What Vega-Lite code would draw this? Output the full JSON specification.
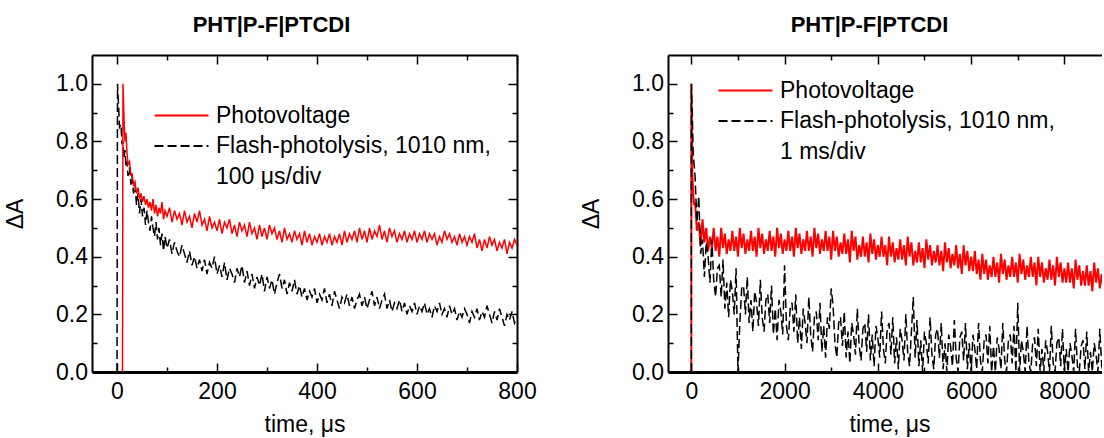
{
  "$schema": "https://vega.github.io/schema/vega-lite/v6.json",
  "padding": {"left": 4, "top": 14, "right": -10, "bottom": 0},
  "spacing": 43,
  "config": {
    "font": "Liberation Sans",
    "view": {"stroke": null},
    "axis": {
      "labelFont": "Liberation Sans", "labelFontSize": 23, "labelColor": "black",
      "titleFont": "Liberation Sans", "titleFontSize": 23, "titleFontWeight": "normal", "titleColor": "black",
      "domainColor": "black", "tickColor": "black", "tickWidth": 1.5, "grid": false,
      "labelPadding": 17.5, "labelFlush": false, "labelOverlap": false, "labelBound": false
    },
    "legend": {
      "labelFont": "Liberation Sans", "labelFontSize": 23, "labelColor": "black", "labelLimit": 0
    },
    "title": {"font": "Liberation Sans", "fontSize": 22, "fontWeight": "bold", "color": "black"}
  },
  "resolve": {
    "scale": {"color": "independent", "strokeDash": "independent"},
    "legend": {"color": "independent", "strokeDash": "independent"}
  },
  "datasets": {
    "L": [
      {"t":0,"k":0},{"t":1,"k":1},{"t":3,"k":0.93},{"t":5,"k":0.85},{"t":8,"k":0.86},{"t":10,"k":0.79},
      {"t":11,"r":0},{"t":12,"r":1,"k":0.8},{"t":14,"r":0.88,"k":0.74},{"t":16,"r":0.8,"k":0.77},{"t":18,"r":0.83,"k":0.71},
      {"t":20,"r":0.76,"k":0.73},{"t":22,"r":0.72,"k":0.68},{"t":25,"r":0.73,"k":0.71},{"t":28,"r":0.68,"k":0.65},
      {"t":30,"r":0.69,"k":0.68},{"t":33,"r":0.65,"k":0.62},{"t":36,"r":0.66,"k":0.65},{"t":39,"r":0.62,"k":0.58},
      {"t":42,"r":0.64,"k":0.62},{"t":45,"r":0.6,"k":0.55},{"t":48,"r":0.62,"k":0.6},{"t":51,"r":0.59,"k":0.54},
      {"t":54,"r":0.61,"k":0.57},{"t":57,"r":0.58,"k":0.51},{"t":60,"r":0.6,"k":0.56},{"t":63,"r":0.57,"k":0.52},
      {"t":66,"r":0.59,"k":0.49},{"t":69,"r":0.56,"k":0.54},{"t":72,"r":0.6,"k":0.5},{"t":75,"r":0.55,"k":0.47},
      {"t":78,"r":0.58,"k":0.52},{"t":81,"r":0.54,"k":0.46},{"t":84,"r":0.57,"k":0.5},{"t":87,"r":0.55,"k":0.44},
      {"t":90,"r":0.59,"k":0.48},{"t":93,"r":0.53,"k":0.42},{"t":96,"r":0.56,"k":0.47},{"t":100,"r":0.54,"k":0.43},
      {"t":105,"r":0.57,"k":0.46},{"t":110,"r":0.52,"k":0.41},{"t":115,"r":0.56,"k":0.45},{"t":120,"r":0.53,"k":0.42},
      {"t":125,"r":0.55,"k":0.4},{"t":130,"r":0.51,"k":0.44},{"t":135,"r":0.56,"k":0.41},{"t":140,"r":0.52,"k":0.38},
      {"t":145,"r":0.54,"k":0.42},{"t":150,"r":0.5,"k":0.37},{"t":155,"r":0.55,"k":0.4},{"t":160,"r":0.52,"k":0.36},
      {"t":165,"r":0.56,"k":0.39},{"t":170,"r":0.51,"k":0.35},{"t":175,"r":0.53,"k":0.39},{"t":180,"r":0.49,"k":0.34},
      {"t":185,"r":0.54,"k":0.38},{"t":190,"r":0.5,"k":0.36},{"t":195,"r":0.52,"k":0.4},{"t":200,"r":0.49,"k":0.34},
      {"t":205,"r":0.53,"k":0.37},{"t":210,"r":0.48,"k":0.33},{"t":215,"r":0.52,"k":0.38},{"t":220,"r":0.5,"k":0.32},
      {"t":225,"r":0.53,"k":0.36},{"t":230,"r":0.48,"k":0.34},{"t":235,"r":0.51,"k":0.31},{"t":240,"r":0.47,"k":0.36},
      {"t":245,"r":0.52,"k":0.33},{"t":250,"r":0.49,"k":0.37},{"t":255,"r":0.51,"k":0.31},{"t":260,"r":0.47,"k":0.35},
      {"t":265,"r":0.52,"k":0.3},{"t":270,"r":0.48,"k":0.34},{"t":275,"r":0.5,"k":0.29},{"t":280,"r":0.46,"k":0.33},
      {"t":285,"r":0.51,"k":0.3},{"t":290,"r":0.47,"k":0.34},{"t":295,"r":0.5,"k":0.28},{"t":300,"r":0.46,"k":0.33},
      {"t":305,"r":0.51,"k":0.29},{"t":310,"r":0.48,"k":0.32},{"t":315,"r":0.5,"k":0.27},{"t":320,"r":0.46,"k":0.31},
      {"t":325,"r":0.49,"k":0.34},{"t":330,"r":0.45,"k":0.29},{"t":335,"r":0.5,"k":0.32},{"t":340,"r":0.46,"k":0.27},
      {"t":345,"r":0.48,"k":0.31},{"t":350,"r":0.45,"k":0.28},{"t":355,"r":0.49,"k":0.32},{"t":360,"r":0.46,"k":0.27},
      {"t":365,"r":0.48,"k":0.3},{"t":370,"r":0.44,"k":0.26},{"t":375,"r":0.49,"k":0.29},{"t":380,"r":0.45,"k":0.25},
      {"t":385,"r":0.48,"k":0.28},{"t":390,"r":0.44,"k":0.26},{"t":395,"r":0.47,"k":0.29},{"t":400,"r":0.45,"k":0.24},
      {"t":405,"r":0.48,"k":0.27},{"t":410,"r":0.44,"k":0.25},{"t":415,"r":0.47,"k":0.29},{"t":420,"r":0.45,"k":0.24},
      {"t":425,"r":0.48,"k":0.27},{"t":430,"r":0.44,"k":0.23},{"t":435,"r":0.47,"k":0.28},{"t":440,"r":0.45,"k":0.25},
      {"t":445,"r":0.48,"k":0.22},{"t":450,"r":0.44,"k":0.26},{"t":455,"r":0.49,"k":0.24},{"t":460,"r":0.45,"k":0.27},
      {"t":465,"r":0.48,"k":0.23},{"t":470,"r":0.46,"k":0.26},{"t":475,"r":0.49,"k":0.22},{"t":480,"r":0.45,"k":0.25},
      {"t":485,"r":0.5,"k":0.27},{"t":490,"r":0.46,"k":0.23},{"t":495,"r":0.49,"k":0.26},{"t":500,"r":0.45,"k":0.22},
      {"t":505,"r":0.5,"k":0.25},{"t":510,"r":0.46,"k":0.28},{"t":515,"r":0.49,"k":0.23},{"t":520,"r":0.47,"k":0.26},
      {"t":525,"r":0.51,"k":0.22},{"t":530,"r":0.46,"k":0.25},{"t":535,"r":0.49,"k":0.27},{"t":540,"r":0.45,"k":0.22},
      {"t":545,"r":0.5,"k":0.25},{"t":550,"r":0.47,"k":0.21},{"t":555,"r":0.49,"k":0.24},{"t":560,"r":0.45,"k":0.22},
      {"t":565,"r":0.48,"k":0.25},{"t":570,"r":0.46,"k":0.21},{"t":575,"r":0.49,"k":0.24},{"t":580,"r":0.45,"k":0.2},
      {"t":585,"r":0.48,"k":0.23},{"t":590,"r":0.46,"k":0.21},{"t":595,"r":0.49,"k":0.24},{"t":600,"r":0.45,"k":0.2},
      {"t":605,"r":0.48,"k":0.23},{"t":610,"r":0.46,"k":0.21},{"t":615,"r":0.49,"k":0.24},{"t":620,"r":0.45,"k":0.2},
      {"t":625,"r":0.48,"k":0.22},{"t":630,"r":0.46,"k":0.19},{"t":635,"r":0.48,"k":0.23},{"t":640,"r":0.44,"k":0.21},
      {"t":645,"r":0.47,"k":0.24},{"t":650,"r":0.45,"k":0.2},{"t":655,"r":0.49,"k":0.22},{"t":660,"r":0.46,"k":0.19},
      {"t":665,"r":0.48,"k":0.23},{"t":670,"r":0.45,"k":0.2},{"t":675,"r":0.47,"k":0.22},{"t":680,"r":0.44,"k":0.18},
      {"t":685,"r":0.48,"k":0.21},{"t":690,"r":0.45,"k":0.19},{"t":695,"r":0.47,"k":0.22},{"t":700,"r":0.44,"k":0.2},
      {"t":705,"r":0.47,"k":0.17},{"t":710,"r":0.45,"k":0.21},{"t":715,"r":0.48,"k":0.19},{"t":720,"r":0.43,"k":0.22},
      {"t":725,"r":0.46,"k":0.18},{"t":730,"r":0.42,"k":0.21},{"t":735,"r":0.46,"k":0.19},{"t":740,"r":0.43,"k":0.23},
      {"t":745,"r":0.47,"k":0.2},{"t":750,"r":0.44,"k":0.17},{"t":755,"r":0.46,"k":0.21},{"t":760,"r":0.42,"k":0.18},
      {"t":765,"r":0.45,"k":0.22},{"t":770,"r":0.43,"k":0.19},{"t":775,"r":0.46,"k":0.16},{"t":780,"r":0.41,"k":0.2},
      {"t":785,"r":0.45,"k":0.18},{"t":790,"r":0.43,"k":0.21},{"t":795,"r":0.46,"k":0.17},{"t":800,"r":0.44,"k":0.19}
    ],
    "R": [
      {"t":0,"r":0,"k":0},{"t":1,"r":1,"k":1},{"t":20,"r":0.7,"k":0.9},{"t":40,"r":0.62,"k":0.76},{"t":60,"r":0.58,"k":0.72},
      {"t":80,"r":0.59,"k":0.68},{"t":120,"r":0.49,"k":0.52},{"t":160,"r":0.52,"k":0.61},{"t":200,"r":0.44,"k":0.41},
      {"t":240,"r":0.53,"k":0.46},{"t":280,"r":0.45,"k":0.33},{"t":320,"r":0.5,"k":0.45},{"t":360,"r":0.42,"k":0.4},
      {"t":400,"r":0.47,"k":0.31},{"t":440,"r":0.43,"k":0.46},{"t":480,"r":0.5,"k":0.32},{"t":520,"r":0.42,"k":0.26},
      {"t":560,"r":0.47,"k":0.36},{"t":600,"r":0.4,"k":0.37},{"t":640,"r":0.5,"k":0.26},{"t":680,"r":0.43,"k":0.39},
      {"t":720,"r":0.48,"k":0.22},{"t":760,"r":0.41,"k":0.31},{"t":800,"r":0.46,"k":0.19},{"t":840,"r":0.42,"k":0.32},
      {"t":880,"r":0.49,"k":0.28},{"t":920,"r":0.42,"k":0.2},{"t":960,"r":0.47,"k":0.36},{"t":1000,"r":0.4,"k":0},
      {"t":1040,"r":0.5,"k":0.17},{"t":1080,"r":0.43,"k":0.29},{"t":1120,"r":0.48,"k":0.3},{"t":1160,"r":0.41,"k":0.2},
      {"t":1200,"r":0.46,"k":0.33},{"t":1240,"r":0.42,"k":0.17},{"t":1280,"r":0.49,"k":0.25},{"t":1320,"r":0.42,"k":0.14},
      {"t":1360,"r":0.47,"k":0.28},{"t":1400,"r":0.4,"k":0.24},{"t":1440,"r":0.5,"k":0.16},{"t":1480,"r":0.43,"k":0.32},
      {"t":1520,"r":0.48,"k":0.19},{"t":1560,"r":0.41,"k":0.14},{"t":1600,"r":0.46,"k":0.25},{"t":1640,"r":0.42,"k":0.27},
      {"t":1680,"r":0.49,"k":0.17},{"t":1720,"r":0.42,"k":0.3},{"t":1760,"r":0.47,"k":0.13},{"t":1800,"r":0.4,"k":0.22},
      {"t":1840,"r":0.5,"k":0.11},{"t":1880,"r":0.43,"k":0.25},{"t":1920,"r":0.48,"k":0.21},{"t":1960,"r":0.41,"k":0.13},
      {"t":2000,"r":0.46,"k":0.37},{"t":2040,"r":0.42,"k":0.16},{"t":2080,"r":0.49,"k":0.11},{"t":2120,"r":0.42,"k":0.22},
      {"t":2160,"r":0.47,"k":0.24},{"t":2200,"r":0.4,"k":0.14},{"t":2240,"r":0.5,"k":0.27},{"t":2280,"r":0.43,"k":0.1},
      {"t":2320,"r":0.48,"k":0.19},{"t":2360,"r":0.41,"k":0.08},{"t":2400,"r":0.46,"k":0.22},{"t":2440,"r":0.42,"k":0.17},
      {"t":2480,"r":0.49,"k":0.1},{"t":2520,"r":0.42,"k":0.26},{"t":2560,"r":0.47,"k":0.13},{"t":2600,"r":0.4,"k":0.07},
      {"t":2640,"r":0.5,"k":0.19},{"t":2680,"r":0.43,"k":0.21},{"t":2720,"r":0.48,"k":0.11},{"t":2760,"r":0.41,"k":0.24},
      {"t":2800,"r":0.46,"k":0.07},{"t":2840,"r":0.42,"k":0.16},{"t":2880,"r":0.49,"k":0.05},{"t":2920,"r":0.42,"k":0.19},
      {"t":2960,"r":0.47,"k":0.15},{"t":3000,"r":0.39,"k":0.29},{"t":3040,"r":0.49,"k":0.23},{"t":3080,"r":0.42,"k":0.1},
      {"t":3120,"r":0.47,"k":0.05},{"t":3160,"r":0.4,"k":0.17},{"t":3200,"r":0.45,"k":0.19},{"t":3240,"r":0.41,"k":0.09},
      {"t":3280,"r":0.48,"k":0.21},{"t":3320,"r":0.41,"k":0.05},{"t":3360,"r":0.46,"k":0.14},{"t":3400,"r":0.38,"k":0.03},
      {"t":3440,"r":0.49,"k":0.17},{"t":3480,"r":0.42,"k":0.13},{"t":3520,"r":0.47,"k":0.06},{"t":3560,"r":0.39,"k":0.22},
      {"t":3600,"r":0.44,"k":0.09},{"t":3640,"r":0.4,"k":0.04},{"t":3680,"r":0.47,"k":0.15},{"t":3720,"r":0.4,"k":0.17},
      {"t":3760,"r":0.45,"k":0.07},{"t":3800,"r":0.38,"k":0.2},{"t":3840,"r":0.48,"k":0.04},{"t":3880,"r":0.41,"k":0.13},
      {"t":3920,"r":0.46,"k":0.02},{"t":3960,"r":0.39,"k":0.16},{"t":4000,"r":0.44,"k":0.12},{"t":4040,"r":0.4,"k":0.05},
      {"t":4080,"r":0.47,"k":0.21},{"t":4120,"r":0.4,"k":0.08},{"t":4160,"r":0.44,"k":0.03},{"t":4200,"r":0.37,"k":0.15},
      {"t":4240,"r":0.47,"k":0.17},{"t":4280,"r":0.4,"k":0.06},{"t":4320,"r":0.45,"k":0.19},{"t":4360,"r":0.38,"k":0.03},
      {"t":4400,"r":0.43,"k":0.12},{"t":4440,"r":0.39,"k":0.01},{"t":4480,"r":0.46,"k":0.15},{"t":4520,"r":0.39,"k":0.11},
      {"t":4560,"r":0.44,"k":0.04},{"t":4600,"r":0.37,"k":0.2},{"t":4640,"r":0.47,"k":0.07},{"t":4680,"r":0.4,"k":0.02},
      {"t":4720,"r":0.45,"k":0.14},{"t":4760,"r":0.37,"k":0.26},{"t":4800,"r":0.42,"k":0.05},{"t":4840,"r":0.38,"k":0.18},
      {"t":4880,"r":0.45,"k":0.02},{"t":4920,"r":0.38,"k":0.11},{"t":4960,"r":0.43,"k":0},{"t":5000,"r":0.36,"k":0.14},
      {"t":5040,"r":0.46,"k":0.1},{"t":5080,"r":0.39,"k":0.03},{"t":5120,"r":0.44,"k":0.19},{"t":5160,"r":0.37,"k":0.06},
      {"t":5200,"r":0.42,"k":0.01},{"t":5240,"r":0.38,"k":0.13},{"t":5280,"r":0.44,"k":0.15},{"t":5320,"r":0.37,"k":0.05},
      {"t":5360,"r":0.42,"k":0.17},{"t":5400,"r":0.35,"k":0.01},{"t":5440,"r":0.45,"k":0.1},{"t":5480,"r":0.38,"k":0},
      {"t":5520,"r":0.43,"k":0.13},{"t":5560,"r":0.36,"k":0.09},{"t":5600,"r":0.41,"k":0.02},{"t":5640,"r":0.37,"k":0.18},
      {"t":5680,"r":0.44,"k":0.05},{"t":5720,"r":0.36,"k":0},{"t":5760,"r":0.41,"k":0.12},{"t":5800,"r":0.34,"k":0.14},
      {"t":5840,"r":0.44,"k":0.04},{"t":5880,"r":0.37,"k":0.17},{"t":5920,"r":0.42,"k":0.01},{"t":5960,"r":0.35,"k":0.1},
      {"t":6000,"r":0.4,"k":0},{"t":6040,"r":0.35,"k":0.13},{"t":6080,"r":0.42,"k":0.08},{"t":6120,"r":0.34,"k":0.01},
      {"t":6160,"r":0.39,"k":0.17},{"t":6200,"r":0.32,"k":0.04},{"t":6240,"r":0.41,"k":0},{"t":6280,"r":0.34,"k":0.11},
      {"t":6320,"r":0.39,"k":0.13},{"t":6360,"r":0.32,"k":0.03},{"t":6400,"r":0.37,"k":0.16},{"t":6440,"r":0.33,"k":0},
      {"t":6480,"r":0.4,"k":0.09},{"t":6520,"r":0.33,"k":0},{"t":6560,"r":0.38,"k":0.12},{"t":6600,"r":0.31,"k":0.08},
      {"t":6640,"r":0.41,"k":0.01},{"t":6680,"r":0.34,"k":0.17},{"t":6720,"r":0.39,"k":0.04},{"t":6760,"r":0.32,"k":0},
      {"t":6800,"r":0.37,"k":0.11},{"t":6840,"r":0.33,"k":0.13},{"t":6880,"r":0.4,"k":0.03},{"t":6920,"r":0.33,"k":0.16},
      {"t":6960,"r":0.38,"k":0},{"t":7000,"r":0.31,"k":0.24},{"t":7040,"r":0.41,"k":0},{"t":7080,"r":0.34,"k":0.11},
      {"t":7120,"r":0.39,"k":0.07},{"t":7160,"r":0.32,"k":0},{"t":7200,"r":0.37,"k":0.16},{"t":7240,"r":0.33,"k":0.03},
      {"t":7280,"r":0.4,"k":0},{"t":7320,"r":0.33,"k":0.1},{"t":7360,"r":0.38,"k":0.12},{"t":7400,"r":0.3,"k":0.02},
      {"t":7440,"r":0.4,"k":0.15},{"t":7480,"r":0.33,"k":0},{"t":7520,"r":0.38,"k":0.08},{"t":7560,"r":0.31,"k":0},
      {"t":7600,"r":0.36,"k":0.11},{"t":7640,"r":0.32,"k":0.07},{"t":7680,"r":0.39,"k":0},{"t":7720,"r":0.32,"k":0.16},
      {"t":7760,"r":0.37,"k":0.03},{"t":7800,"r":0.3,"k":0},{"t":7840,"r":0.4,"k":0.1},{"t":7880,"r":0.33,"k":0.12},
      {"t":7920,"r":0.38,"k":0.02},{"t":7960,"r":0.31,"k":0.15},{"t":8000,"r":0.36,"k":0},{"t":8040,"r":0.31,"k":0.08},
      {"t":8080,"r":0.38,"k":0},{"t":8120,"r":0.31,"k":0.1},{"t":8160,"r":0.36,"k":0.06},{"t":8200,"r":0.29,"k":0},
      {"t":8240,"r":0.39,"k":0.15},{"t":8280,"r":0.32,"k":0.02},{"t":8320,"r":0.37,"k":0},{"t":8360,"r":0.3,"k":0.09},
      {"t":8400,"r":0.35,"k":0.11},{"t":8440,"r":0.3,"k":0.01},{"t":8480,"r":0.37,"k":0.14},{"t":8520,"r":0.3,"k":0},
      {"t":8560,"r":0.35,"k":0.07},{"t":8600,"r":0.28,"k":0},{"t":8640,"r":0.38,"k":0.1},{"t":8680,"r":0.31,"k":0.06},
      {"t":8720,"r":0.36,"k":0},{"t":8760,"r":0.29,"k":0.15},{"t":8800,"r":0.34,"k":0.02},{"t":8840,"r":0.29,"k":0},
      {"t":8880,"r":0.36,"k":0.09},{"t":8920,"r":0.29,"k":0.11},{"t":8960,"r":0.34,"k":0.01},{"t":9000,"r":0.27,"k":0.14}
    ]
  },
  "hconcat": [
    {
      "width": 425, "height": 317,
      "title": {"text": "PHT|P-F|PTCDI", "frame": "group", "anchor": "middle", "dx": -33, "offset": 17},
      "data": {"name": "L"},
      "transform": [{"fold": ["r", "k"], "as": ["s", "v"]}, {"filter": "isValid(datum.v)"}],
      "resolve": {"axis": {"x": "independent", "y": "independent"}},
      "layer": [
        {
          "transform": [{"filter": "datum.s == 'k'"}],
          "mark": {"type": "line", "clip": true, "strokeWidth": 1.5},
          "encoding": {
            "x": {"field": "t", "type": "quantitative", "scale": {"domain": [-50, 800], "nice": false, "zero": false},
              "axis": {"orient": "top", "values": [0,100,200,300,400,500,600,700,800], "labels": false, "title": null, "domainWidth": 2,
                "tickSize": {"condition": {"test": "datum.value % 200 == 0", "value": -9}, "value": -5}}},
            "y": {"field": "v", "type": "quantitative", "scale": {"domain": [0, 1.1], "nice": false},
              "axis": {"orient": "right", "values": [0,0.1,0.2,0.3,0.4,0.5,0.6,0.7,0.8,0.9,1.0], "labels": false, "title": null, "domainWidth": 2,
                "tickSize": {"condition": {"test": "round(datum.value*10) % 2 == 0", "value": -9}, "value": -5}}},
            "color": {"field": "s", "type": "nominal", "scale": {"domain": ["r", "k", "z"], "range": ["#ff0000", "#000000", "transparent"]},
              "legend": {"orient": "none", "legendX": 78, "legendY": 49, "title": null, "padding": 0, "labelFontSize": 23, "labelLimit": 0,
                "labelExpr": "datum.value == 'r' ? 'Photovoltage' : datum.value == 'k' ? 'Flash-photolysis, 1010 nm,' : '100 μs/div'",
                "symbolType": "M-4,0H4", "symbolSize": 182, "symbolStrokeWidth": 2, "labelOffset": 23, "rowPadding": 6.5}},
            "strokeDash": {"field": "s", "type": "nominal", "scale": {"domain": ["r", "k", "z"], "range": [[1, 0], [9, 4], [1, 0]]},
              "legend": {"orient": "none", "legendX": 78, "legendY": 49, "title": null, "padding": 0, "labelFontSize": 23, "labelLimit": 0,
                "labelExpr": "datum.value == 'r' ? 'Photovoltage' : datum.value == 'k' ? 'Flash-photolysis, 1010 nm,' : '100 μs/div'",
                "symbolType": "M-4,0H4", "symbolSize": 182, "symbolStrokeWidth": 2, "labelOffset": 23, "rowPadding": 6.5}}
          }
        },
        {
          "transform": [{"filter": "datum.s == 'r'"}],
          "mark": {"type": "line", "clip": true, "strokeWidth": 1.5},
          "encoding": {
            "x": {"field": "t", "type": "quantitative",
              "axis": {"orient": "bottom", "values": [0,100,200,300,400,500,600,700,800], "format": "d",
                "labelExpr": "datum.value % 200 == 0 ? datum.label : ''", "title": "time, μs", "titlePadding": 6, "domainWidth": 3,
                "tickSize": {"condition": {"test": "datum.value % 200 == 0", "value": -9}, "value": -5}}},
            "y": {"field": "v", "type": "quantitative",
              "axis": {"orient": "left", "values": [0,0.1,0.2,0.3,0.4,0.5,0.6,0.7,0.8,0.9,1.0], "format": ".1f", "labelPadding": 13.5,
                "labelExpr": "round(datum.value*10) % 2 == 0 ? datum.label : ''", "title": "ΔA", "titlePadding": 28.5, "domainWidth": 2,
                "tickSize": {"condition": {"test": "round(datum.value*10) % 2 == 0", "value": -9}, "value": -5}}},
            "color": {"field": "s", "type": "nominal"},
            "strokeDash": {"field": "s", "type": "nominal"}
          }
        }
      ]
    },
    {
      "width": 443, "height": 317,
      "title": {"text": "PHT|P-F|PTCDI", "frame": "group", "anchor": "middle", "dx": -20, "offset": 17},
      "data": {"name": "R"},
      "transform": [{"fold": ["r", "k"], "as": ["s", "v"]}, {"filter": "isValid(datum.v)"}],
      "resolve": {"axis": {"x": "independent", "y": "independent"}},
      "layer": [
        {
          "transform": [{"filter": "datum.s == 'r'"}],
          "mark": {"type": "line", "clip": true, "strokeWidth": 2},
          "encoding": {
            "x": {"field": "t", "type": "quantitative", "scale": {"domain": [-500, 9000], "nice": false, "zero": false},
              "axis": {"orient": "bottom", "values": [0,1000,2000,3000,4000,5000,6000,7000,8000,9000], "format": "d",
                "labelExpr": "datum.value % 2000 == 0 ? datum.label : ''", "title": "time, μs", "titlePadding": 6, "domainWidth": 3,
                "tickSize": {"condition": {"test": "datum.value % 2000 == 0", "value": -9}, "value": -5}}},
            "y": {"field": "v", "type": "quantitative", "scale": {"domain": [0, 1.1], "nice": false},
              "axis": {"orient": "left", "values": [0,0.1,0.2,0.3,0.4,0.5,0.6,0.7,0.8,0.9,1.0], "format": ".1f", "labelPadding": 13.5,
                "labelExpr": "round(datum.value*10) % 2 == 0 ? datum.label : ''", "title": "ΔA", "titlePadding": 28.5, "domainWidth": 2,
                "tickSize": {"condition": {"test": "round(datum.value*10) % 2 == 0", "value": -9}, "value": -5}}},
            "color": {"field": "s", "type": "nominal", "scale": {"domain": ["r", "k", "z"], "range": ["#ff0000", "#000000", "transparent"]},
              "legend": {"orient": "none", "legendX": 66, "legendY": 24, "title": null, "padding": 0, "labelFontSize": 23, "labelLimit": 0,
                "labelExpr": "datum.value == 'r' ? 'Photovoltage' : datum.value == 'k' ? 'Flash-photolysis, 1010 nm,' : '1 ms/div'",
                "symbolType": "M-4,0H4", "symbolSize": 182, "symbolStrokeWidth": 2, "labelOffset": 23, "rowPadding": 6.5}},
            "strokeDash": {"field": "s", "type": "nominal", "scale": {"domain": ["r", "k", "z"], "range": [[1, 0], [9, 4], [1, 0]]},
              "legend": {"orient": "none", "legendX": 66, "legendY": 24, "title": null, "padding": 0, "labelFontSize": 23, "labelLimit": 0,
                "labelExpr": "datum.value == 'r' ? 'Photovoltage' : datum.value == 'k' ? 'Flash-photolysis, 1010 nm,' : '1 ms/div'",
                "symbolType": "M-4,0H4", "symbolSize": 182, "symbolStrokeWidth": 2, "labelOffset": 23, "rowPadding": 6.5}}
          }
        },
        {
          "transform": [{"filter": "datum.s == 'k'"}],
          "mark": {"type": "line", "clip": true, "strokeWidth": 1.5},
          "encoding": {
            "x": {"field": "t", "type": "quantitative",
              "axis": {"orient": "top", "values": [0,1000,2000,3000,4000,5000,6000,7000,8000,9000], "labels": false, "title": null, "domainWidth": 2,
                "tickSize": {"condition": {"test": "datum.value % 2000 == 0", "value": -9}, "value": -5}}},
            "y": {"field": "v", "type": "quantitative",
              "axis": {"orient": "right", "values": [0,0.1,0.2,0.3,0.4,0.5,0.6,0.7,0.8,0.9,1.0], "labels": false, "title": null, "domainWidth": 2,
                "tickSize": {"condition": {"test": "round(datum.value*10) % 2 == 0", "value": -9}, "value": -5}}},
            "color": {"field": "s", "type": "nominal"},
            "strokeDash": {"field": "s", "type": "nominal"}
          }
        }
      ]
    }
  ]
}
